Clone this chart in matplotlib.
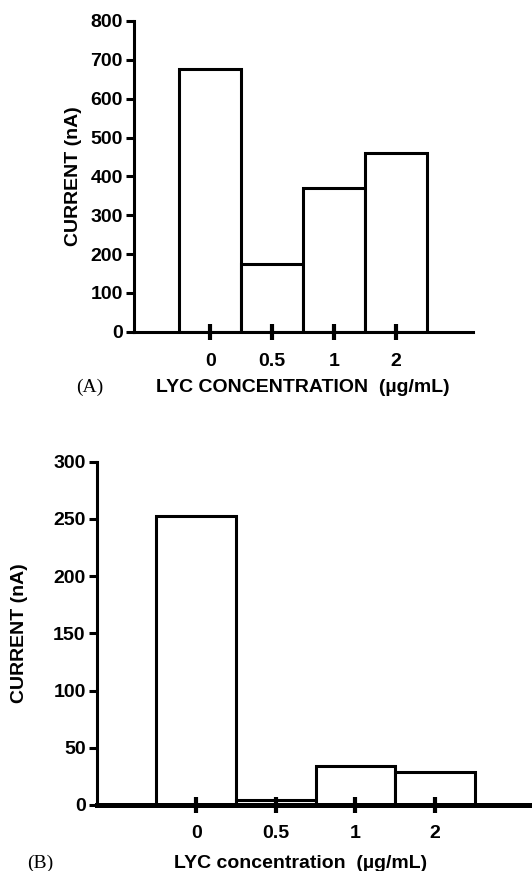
import matplotlib.pyplot as plt
import numpy as np

# data
conc_labels = ['0', '0.5', '1', '2']
current_a = [676, 175, 370, 460]
current_b = [253, 4, 34, 29]

plt.rcParams['font.family'] = ['Liberation Sans', 'DejaVu Sans']
plt.rcParams['font.weight'] = 'bold'

fig = plt.figure(figsize=(5.32, 8.71), dpi=100)
x = np.arange(len(conc_labels))


def style_axes(ax, bottom_lw, xpad):
    for s in ['top', 'right']:
        ax.spines[s].set_visible(False)
    ax.spines['left'].set_linewidth(2.2)
    ax.spines['bottom'].set_linewidth(bottom_lw)
    ax.tick_params(axis='y', direction='out', length=6, width=2.2, labelsize=14, pad=2)
    ax.tick_params(axis='x', direction='inout', length=11, width=3, labelsize=14, pad=xpad)
    for lab in ax.get_xticklabels() + ax.get_yticklabels():
        lab.set_fontweight('bold')


# panel A
axA = fig.add_axes([0.252, 0.619, 0.637, 0.357])
axA.bar(x, current_a, width=1.0, color='white', edgecolor='black', linewidth=2.2)
axA.set_xlim(-1.23, 4.24)
axA.set_ylim(0, 800)
axA.set_yticks(np.arange(0, 801, 100))
axA.set_xticks(x)
axA.set_xticklabels(conc_labels)
style_axes(axA, 2.2, 10)
axA.set_ylabel('CURRENT (nA)', fontsize=14, fontweight='bold', labelpad=6)
fig.text(0.57, 1 - 387 / 871, 'LYC CONCENTRATION  (µg/mL)', ha='center', va='center',
         fontsize=14, fontweight='bold')
fig.text(0.168, 1 - 387 / 871, '(A)', ha='center', va='center', fontsize=14,
         family='Liberation Serif', fontweight='normal')

# panel B
axB = fig.add_axes([0.182, 0.0758, 0.83, 0.394])
axB.bar(x, current_b, width=1.0, color='white', edgecolor='black', linewidth=2.2)
axB.set_xlim(-1.25, 4.3)
axB.set_ylim(0, 300)
axB.set_yticks(np.arange(0, 301, 50))
axB.set_xticks(x)
axB.set_xticklabels(conc_labels)
style_axes(axB, 3.6, 9)
axB.set_ylabel('CURRENT (nA)', fontsize=14, fontweight='bold', labelpad=18)
fig.text(0.565, 1 - 863 / 871, 'LYC concentration  (µg/mL)', ha='center', va='center',
         fontsize=14, fontweight='bold')
fig.text(0.075, 1 - 863 / 871, '(B)', ha='center', va='center', fontsize=14,
         family='Liberation Serif', fontweight='normal')

fig.savefig('out.png', dpi=100)
